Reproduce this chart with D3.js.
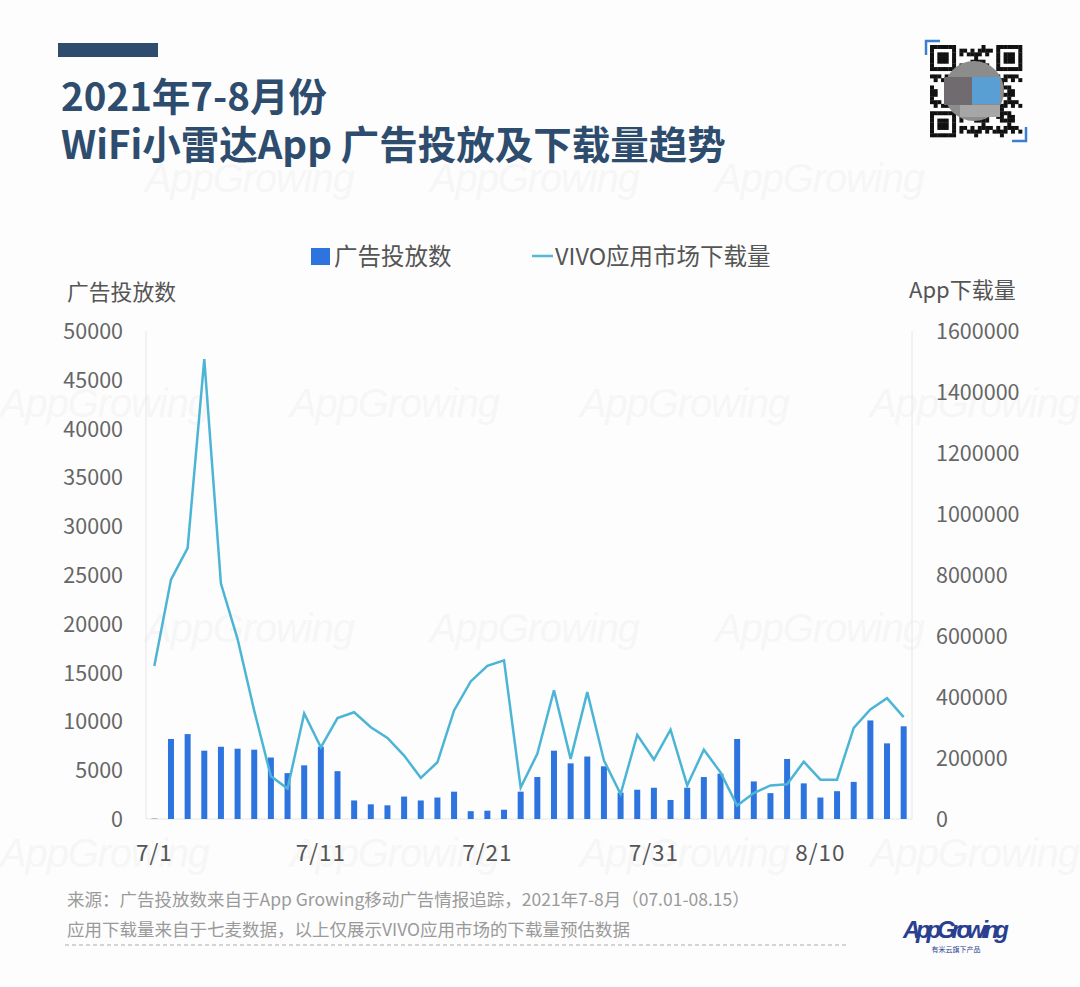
<!DOCTYPE html>
<html><head><meta charset="utf-8">
<script src="https://cdn.jsdelivr.net/npm/d3@7"></script>
<style>html,body{margin:0;padding:0;background:#fff;}svg{display:block;}</style>
</head><body>
<svg id="c" width="1080" height="987"></svg>
<script>
const dates = ["7/1","7/2","7/3","7/4","7/5","7/6","7/7","7/8","7/9","7/10","7/11","7/12","7/13","7/14","7/15","7/16","7/17","7/18","7/19","7/20","7/21","7/22","7/23","7/24","7/25","7/26","7/27","7/28","7/29","7/30","7/31","8/1","8/2","8/3","8/4","8/5","8/6","8/7","8/8","8/9","8/10","8/11","8/12","8/13","8/14","8/15"];
const adCounts = [100,8200,8700,7000,7400,7200,7100,6300,4700,5500,7400,4900,1900,1500,1400,2300,1900,2200,2800,800,850,950,2800,4300,7000,5700,6400,5400,2700,3000,3200,1950,3200,4300,4650,8200,3850,2650,6150,3650,2200,2850,3800,10100,7750,9500];
const downloads = [502000,785000,888000,1508000,772000,590000,355000,140000,100000,346000,235000,331000,350000,301000,266000,208000,135000,186000,356000,451000,502000,520000,103000,214000,422000,197000,416000,192000,82000,276000,195000,293000,110000,227000,153000,44000,85000,110000,114000,188000,129000,129000,299000,359000,396000,334000];
const xTickLabels = ["7/1","7/11","7/21","7/31","8/10"];
const leftTicks = [0,5000,10000,15000,20000,25000,30000,35000,40000,45000,50000];
const rightTicks = [0,200000,400000,600000,800000,1000000,1200000,1400000,1600000];
const titleLines = ["2021年7-8月份","WiFi小雷达App 广告投放及下载量趋势"];
const legendItems = ["广告投放数","VIVO应用市场下载量"];
const notes = ["来源：广告投放数来自于App Growing移动广告情报追踪，2021年7-8月（07.01-08.15）","应用下载量来自于七麦数据，以上仅展示VIVO应用市场的下载量预估数据"];

const FONT = "'Noto Sans CJK SC','Noto Sans',sans-serif";
const svg = d3.select("#c");
const W=1080,H=987;
svg.append("rect").attr("width",W).attr("height",H).attr("fill","#fdfdfd");

// watermarks
const wmRows = [[180,[145,430,715]],[405,[0,290,580,870]],[630,[145,430,715]],[855,[0,290,580,870]]];
wmRows.forEach(([y,xs])=>xs.forEach(x=>{
  svg.append("text").attr("x",x).attr("y",y+12).text("AppGrowing")
    .attr("font-family","'Liberation Sans',sans-serif").attr("font-style","italic")
    .attr("font-size",40).attr("fill","#000").attr("opacity",0.022).attr("textLength",210);
}));

// header bar and title
svg.append("rect").attr("x",58).attr("y",43).attr("width",100).attr("height",14).attr("fill","#2d4c6e");
titleLines.forEach((t,i)=>svg.append("text").attr("x",61).attr("y",111+i*48).text(t)
  .attr("font-family",FONT).attr("font-weight",700).attr("font-size",38.5).attr("fill","#2d4c6e"));

// QR-like decoration
const qr = svg.append("g").attr("transform","translate(930,45)");
const N=25, cs=92/N;
const f=(a,b)=>{const m=Math.max(Math.abs(a-3),Math.abs(b-3));return m!==2&&m<4;};
for(let i=0;i<N;i++)for(let j=0;j<N;j++){
  let on;
  if(i<7&&j<7) on=f(i,j);
  else if(i>=N-7&&j<7) on=f(i-(N-7),j);
  else if(i<7&&j>=N-7) on=f(i,j-(N-7));
  else if((i<8&&j<8)||(i>=N-8&&j<8)||(i<8&&j>=N-8)) on=false;
  else on=((i*i*3+j*j*5+i*j*11+i*7+j*3)%7)<3;
  if(on) qr.append("rect").attr("x",i*cs).attr("y",j*cs).attr("width",cs+0.3).attr("height",cs+0.3).attr("fill","#111");
}
qr.append("path").attr("d","M-4,10 V-4 H10").attr("fill","none").attr("stroke","#3b7fd0").attr("stroke-width",2.5);
qr.append("path").attr("d","M96,82 V96 H82").attr("fill","none").attr("stroke","#3b7fd0").attr("stroke-width",2.5);
qr.append("ellipse").attr("cx",44).attr("cy",46).attr("rx",30).attr("ry",30).attr("fill","#8c8c8c");
qr.append("rect").attr("x",14).attr("y",32).attr("width",28).attr("height",28).attr("fill","#6f6b6e");
qr.append("rect").attr("x",42).attr("y",32).attr("width",28).attr("height",27).attr("fill","#5a9fd4");
qr.append("rect").attr("x",30).attr("y",60).attr("width",40).attr("height",12).attr("fill","#a6a6a6");

// legend
const lg = svg.append("g").attr("font-family",FONT).attr("font-size",23.5).attr("fill","#555");
lg.append("rect").attr("x",311).attr("y",248).attr("width",19).attr("height",17).attr("fill","#2e74de");
lg.append("text").attr("x",334).attr("y",265).text(legendItems[0]);
lg.append("line").attr("x1",532).attr("x2",553).attr("y1",256).attr("y2",256).attr("stroke","#54b8d8").attr("stroke-width",2.5);
lg.append("text").attr("x",555).attr("y",265).text(legendItems[1]);

// scales
const x = d3.scaleBand().domain(dates).range([146,912]).paddingInner(0.64).paddingOuter(0.32);
const yL = d3.scaleLinear().domain([0,50000]).range([819,331]);
const yR = d3.scaleLinear().domain([0,1600000]).range([819,331]);

// axis frames
svg.append("line").attr("x1",146).attr("x2",146).attr("y1",331).attr("y2",819).attr("stroke","#e6e6e6");
svg.append("line").attr("x1",912).attr("x2",912).attr("y1",331).attr("y2",819).attr("stroke","#e6e6e6");
svg.append("line").attr("x1",146).attr("x2",912).attr("y1",819).attr("y2",819).attr("stroke","#e6e6e6");

// axes
const axL = svg.append("g").attr("transform","translate(124,0)")
  .call(d3.axisLeft(yL).tickValues(leftTicks).tickSize(0).tickPadding(1).tickFormat(d3.format("d")));
const axR = svg.append("g").attr("transform","translate(936,0)")
  .call(d3.axisRight(yR).tickValues(rightTicks).tickSize(0).tickPadding(0).tickFormat(d3.format("d")));
const axB = svg.append("g").attr("transform","translate(0,842)")
  .call(d3.axisBottom(x).tickValues(xTickLabels).tickSize(0).tickPadding(0));
[axL,axR,axB].forEach(a=>{a.select(".domain").remove();
  a.selectAll("text").attr("font-family",FONT).attr("fill","#666").attr("font-size",21.5);});
axB.selectAll("text").attr("font-size",22.5).attr("dy","0.85em").attr("fill","#555").attr("letter-spacing",1);
axL.selectAll("text").attr("dy","0.35em");
axR.selectAll("text").attr("dy","0.35em");

// axis titles
svg.append("text").attr("x",67).attr("y",300).text("广告投放数").attr("font-family",FONT).attr("font-size",21.8).attr("fill","#555");
svg.append("text").attr("x",909).attr("y",298).text("App下载量").attr("font-family",FONT).attr("font-size",22).attr("fill","#555");

// bars
svg.append("g").selectAll("rect").data(dates).join("rect")
  .attr("x",d=>x(d)).attr("width",x.bandwidth())
  .attr("y",(d,i)=>yL(adCounts[i])).attr("height",(d,i)=>yL(0)-yL(adCounts[i]))
  .attr("fill",(d,i)=>i===0?"#bbb":"#2e74de");

// line
const line = d3.line().x((d,i)=>x(dates[i])+x.bandwidth()/2).y(d=>yR(d));
svg.append("path").datum(downloads).attr("d",line).attr("fill","none")
  .attr("stroke","#4cb5d5").attr("stroke-width",2.5).attr("stroke-linejoin","miter");

// notes
notes.forEach((t,i)=>svg.append("text").attr("x",67).attr("y",906+i*30).text(t)
  .attr("font-family",FONT).attr("font-size",17.5).attr("fill","#9a9a9a"));
svg.append("line").attr("x1",65).attr("x2",848).attr("y1",945).attr("y2",945)
  .attr("stroke","#c8c8c8").attr("stroke-width",1.5).attr("stroke-dasharray","4,3");

// logo
svg.append("text").attr("x",903).attr("y",938).text("AppGrowing").attr("font-family","'Liberation Sans',sans-serif")
  .attr("font-style","italic").attr("font-weight",700).attr("font-size",24).attr("fill","#2a3f8f").attr("textLength",106);
svg.append("text").attr("x",956).attr("y",952).text("有米云旗下产品").attr("text-anchor","middle")
  .attr("font-family",FONT).attr("font-size",7).attr("fill","#2a3f8f");
</script>
</body></html>
